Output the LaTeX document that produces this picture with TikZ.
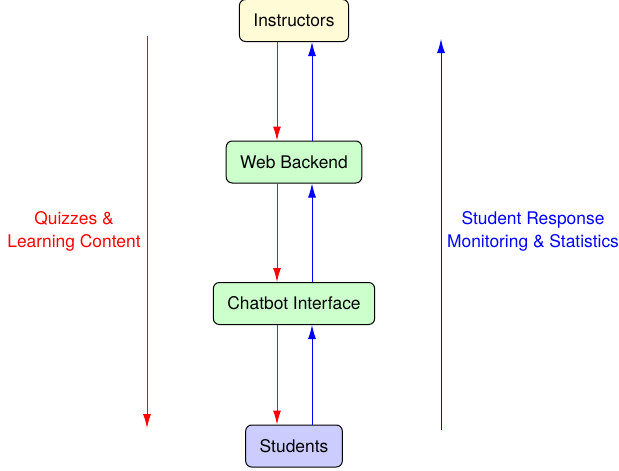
\documentclass[tikz,border=0pt]{standalone}
\usepackage{fontspec}
\setmainfont{TeX Gyre Heros}
\usepackage{xcolor}
\usepackage{tikz}
\usetikzlibrary{arrows.meta}
\definecolor{instfill}{HTML}{FFFBD6}
\definecolor{midfill}{HTML}{CCFFCC}
\definecolor{studfill}{HTML}{CCCCFF}
\tikzset{box/.style={draw=black, rounded corners=6pt, line width=1pt,
  minimum height=42pt, inner xsep=14pt, font=\fontsize{17.4}{20}\selectfont},
 down/.style={draw=red, line width=1pt, -{Latex[length=14pt,width=8pt]}},
 up/.style={draw=blue, line width=1pt, -{Latex[length=14pt,width=8pt]}},
 side/.style={align=center, font=\fontsize{17.4}{23}\selectfont},
 }

\begin{document}
\begin{tikzpicture}[x=1pt, y=-1pt]
        \useasboundingbox (0,0) rectangle (619,471);
        \node[box, fill=instfill] (inst) at (294, 20.5) {Instructors};
        \node[box, fill=midfill] (web) at (294, 162) {Web Backend};
        \node[box, fill=midfill] (chat) at (294, 303.5) {Chatbot Interface};
        \node[box, fill=studfill] (stud) at (294, 446) {Students};
        \draw[down] ([xshift=-17pt]inst.south) -- ([xshift=-17pt]web.north);
        \draw[down] ([xshift=-17pt]web.south) -- ([xshift=-17pt]chat.north);
        \draw[down] ([xshift=-17pt]chat.south) -- ([xshift=-17pt]stud.north);
        \draw[up] ([xshift=18pt]stud.north) -- ([xshift=18pt]chat.south);
        \draw[up] ([xshift=18pt]chat.north) -- ([xshift=18pt]web.south);
        \draw[up] ([xshift=18pt]web.north) -- ([xshift=18pt]inst.south);
        \coordinate (ltop) at (147, 36);
        \coordinate (lbot) at (147, 428);
        \coordinate (rbot) at (441, 430);
        \coordinate (rtop) at (441, 39);
        \draw[down] (ltop) -- (lbot);
        \draw[up] (rbot) -- (rtop);
        \node[side, text=red] (quiz) at (74, 231) {Quizzes \&\\Learning Content};
        \node[side, text=blue] (stats) at (533, 231) {Student Response\\Monitoring \& Statistics};
    \end{tikzpicture}
\end{document}
